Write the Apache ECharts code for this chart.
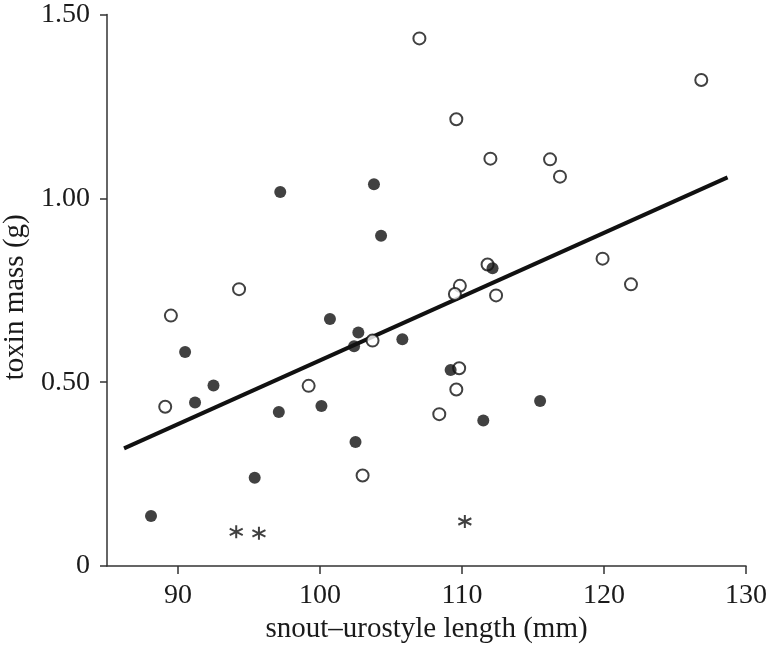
<!DOCTYPE html>
<html>
<head>
<meta charset="utf-8">
<script src="https://cdn.jsdelivr.net/npm/echarts@6/dist/echarts.min.js"></script>
<style>html,body{margin:0;padding:0;background:#fff}#c{width:768px;height:647px}</style>
</head>
<body>
<div id="c"></div>
<script>
// filled circles
const filledX = [97.2, 100.7, 90.5, 92.5, 91.2, 97.1, 100.1, 103.8, 104.3, 112.15, 102.7, 102.4, 105.8, 109.2, 111.5, 115.5, 102.5, 88.1, 95.4];
const filledY = [1.017, 0.672, 0.582, 0.491, 0.445, 0.419, 0.435, 1.038, 0.898, 0.810, 0.635, 0.598, 0.617, 0.533, 0.396, 0.449, 0.337, 0.136, 0.240];
// open circles
const openX = [94.3, 89.5, 99.2, 89.1, 107.0, 109.6, 112.0, 116.2, 116.9, 111.8, 109.85, 109.5, 112.4, 103.7, 109.8, 109.6, 108.4, 103.0, 126.85, 119.9, 121.9];
const openY = [0.753, 0.681, 0.490, 0.433, 1.435, 1.215, 1.108, 1.106, 1.059, 0.820, 0.762, 0.740, 0.736, 0.613, 0.538, 0.480, 0.413, 0.246, 1.322, 0.836, 0.766];
// asterisks
const starX = [94.1, 95.7, 110.2];
const starY = [0.093, 0.089, 0.121];
// fitted line ends
const fitX = [86.2, 128.7];
const fitY = [0.320, 1.057];
const xTicks = [90, 100, 110, 120, 130];
const yTicks = [0, 0.5, 1.0, 1.5];

const zip = (a, b) => a.map((v, i) => [v, b[i]]);
const font = 'Liberation Serif';
const ink = '#1a1a1a';

const chart = echarts.init(document.getElementById('c'));
chart.setOption({
  animation: false,
  backgroundColor: '#fff',
  grid: { left: 107, right: 22, top: 14.5, bottom: 81, containLabel: false, outerBoundsMode: 'none' },
  xAxis: {
    type: 'value', min: 85, max: 130,
    name: 'snout\u2013urostyle length (mm)', nameLocation: 'middle', nameGap: 47,
    nameTextStyle: { fontFamily: font, fontSize: 29, color: ink },
    axisLine: { show: true, onZero: false, lineStyle: { color: '#333', width: 1.5 } },
    axisTick: { show: true, inside: false, length: 8, customValues: xTicks, lineStyle: { color: '#333', width: 1.5 } },
    axisLabel: { customValues: xTicks, margin: 16, fontFamily: font, fontSize: 28, color: ink },
    splitLine: { show: false }
  },
  yAxis: {
    type: 'value', min: 0, max: 1.5,
    name: 'toxin mass (g)', nameLocation: 'middle', nameGap: 76, nameRotate: 90,
    nameTextStyle: { fontFamily: font, fontSize: 29, color: ink, padding: [0, 14, 0, 0] },
    axisLine: { show: true, lineStyle: { color: '#333', width: 1.5 } },
    axisTick: { show: true, inside: false, length: 7, customValues: yTicks, lineStyle: { color: '#333', width: 1.5 } },
    axisLabel: { customValues: yTicks, margin: 17, fontFamily: font, fontSize: 28, color: ink,
      formatter: v => v === 0 ? '0' : v.toFixed(2) },
    splitLine: { show: false }
  },
  series: [
    {
      type: 'line', data: zip(fitX, fitY), symbol: 'none', z: 1,
      lineStyle: { color: '#111', width: 4 }
    },
    {
      type: 'scatter', data: zip(filledX, filledY), symbol: 'circle', symbolSize: 12, z: 3,
      itemStyle: { color: '#111', borderWidth: 0 }
    },
    {
      type: 'scatter', data: zip(openX, openY), symbol: 'circle', symbolSize: 12, z: 2,
      itemStyle: { color: '#fff', borderColor: '#111', borderWidth: 2 }
    },
    {
      type: 'scatter', data: zip(starX, starY), z: 2,
      symbol: 'path://M0,-1L0,1M-0.866,-0.5L0.866,0.5M-0.866,0.5L0.866,-0.5',
      symbolSize: 13,
      itemStyle: { color: 'none', borderColor: '#111', borderWidth: 2 }
    }
  ]
});
</script>
</body>
</html>
